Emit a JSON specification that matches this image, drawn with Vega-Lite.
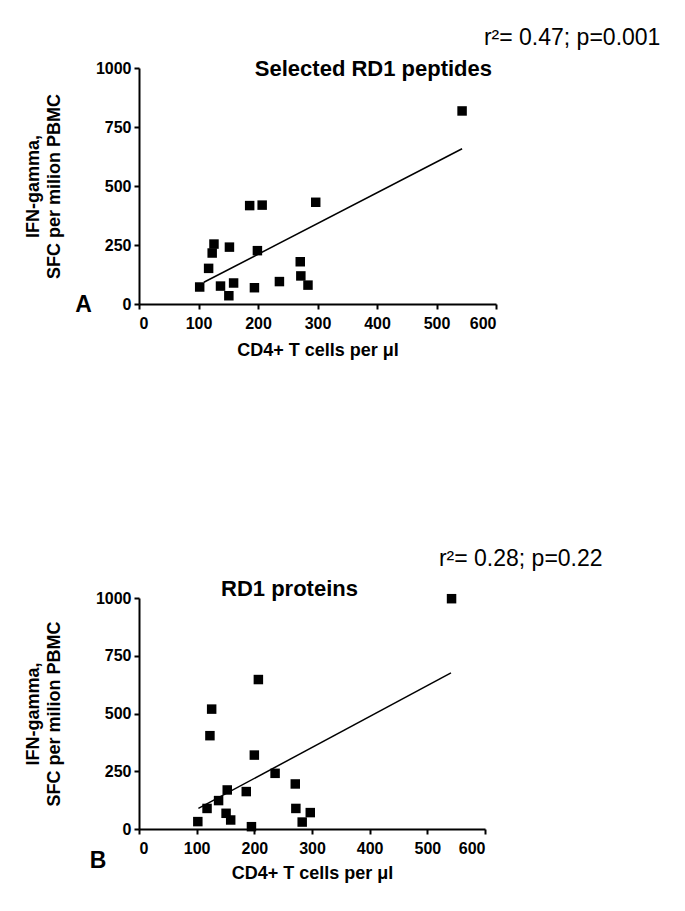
{
  "$schema": "https://vega.github.io/schema/vega-lite/v6.json",
  "background": "white",
  "padding": {"left": 24, "top": 27, "right": 5, "bottom": 5},
  "bounds": "flush",
  "spacing": 294,
  "config": {
    "view": {"stroke": null},
    "font": "Liberation Sans",
    "axis": {
      "grid": false,
      "domainColor": "black",
      "domainWidth": 2,
      "tickColor": "black",
      "tickWidth": 2,
      "tickSize": 5,
      "labelColor": "black",
      "labelFont": "Liberation Sans",
      "labelFontWeight": "bold",
      "labelFontSize": 16,
      "titleColor": "black",
      "titleFont": "Liberation Sans",
      "titleFontWeight": "bold",
      "titleFontSize": 18,
      "titleLineHeight": 21,
      "format": "d"
    }
  },
  "datasets": {
    "pep": [
      {"x": 543, "y": 818}, {"x": 102, "y": 72}, {"x": 117, "y": 151}, {"x": 123, "y": 216},
      {"x": 126, "y": 254}, {"x": 137, "y": 76}, {"x": 151, "y": 35}, {"x": 152, "y": 241},
      {"x": 159, "y": 89}, {"x": 186, "y": 417}, {"x": 194, "y": 69}, {"x": 199, "y": 226},
      {"x": 207, "y": 419}, {"x": 236, "y": 95}, {"x": 271, "y": 179}, {"x": 272, "y": 119},
      {"x": 284, "y": 80}, {"x": 297, "y": 431}
    ],
    "pepfit": [{"x": 109, "y": 92}, {"x": 543, "y": 658}],
    "pro": [
      {"x": 542, "y": 997}, {"x": 102, "y": 32}, {"x": 118, "y": 89}, {"x": 123, "y": 404},
      {"x": 126, "y": 519}, {"x": 138, "y": 123}, {"x": 151, "y": 68}, {"x": 153, "y": 169},
      {"x": 159, "y": 39}, {"x": 186, "y": 162}, {"x": 195, "y": 10}, {"x": 200, "y": 320},
      {"x": 207, "y": 647}, {"x": 236, "y": 241}, {"x": 271, "y": 195}, {"x": 272, "y": 89},
      {"x": 283, "y": 30}, {"x": 297, "y": 71}
    ],
    "profit": [{"x": 103, "y": 89}, {"x": 541, "y": 676}],
    "notesA": [
      {"kind": "title", "x": 394, "y": 996, "label": "Selected RD1 peptides"},
      {"kind": "stat", "x": 728, "y": 1127, "label": "r²= 0.47; p=0.001"},
      {"kind": "letter", "x": -93, "y": -4, "label": "A"}
    ],
    "notesB": [
      {"kind": "title", "x": 261, "y": 1041, "label": "RD1 proteins"},
      {"kind": "stat", "x": 662, "y": 1170, "label": "r²= 0.28; p=0.22"},
      {"kind": "letter", "x": -71, "y": -140, "label": "B"}
    ]
  },
  "vconcat": [
    {
      "width": 357,
      "height": 236,
      "encoding": {
        "x": {"field": "x", "type": "quantitative", "scale": {"domain": [0, 600]},
              "axis": {"values": [0, 100, 200, 300, 400, 500, 600], "title": "CD4+ T cells per  μl", "labelPadding": 6, "titlePadding": 10}},
        "y": {"field": "y", "type": "quantitative", "scale": {"domain": [0, 1000]},
              "axis": {"values": [0, 250, 500, 750, 1000], "title": ["IFN-gamma,", "SFC per milion PBMC"], "labelPadding": 3, "titlePadding": 32}}
      },
      "layer": [
        {"data": {"name": "pep"}, "mark": {"type": "square", "size": 90, "color": "black", "opacity": 1}},
        {"data": {"name": "pepfit"}, "mark": {"type": "line", "color": "black", "strokeWidth": 1.5}},
        {"data": {"name": "notesA"}, "transform": [{"filter": "datum.kind == 'title'"}],
         "mark": {"type": "text", "fontSize": 22, "fontWeight": "bold", "color": "black", "align": "center", "baseline": "middle"},
         "encoding": {"text": {"field": "label"}}},
        {"data": {"name": "notesA"}, "transform": [{"filter": "datum.kind == 'stat'"}],
         "mark": {"type": "text", "fontSize": 23, "fontWeight": "normal", "color": "black", "align": "center", "baseline": "middle"},
         "encoding": {"text": {"field": "label"}}},
        {"data": {"name": "notesA"}, "transform": [{"filter": "datum.kind == 'letter'"}],
         "mark": {"type": "text", "fontSize": 23, "fontWeight": "bold", "color": "black", "align": "center", "baseline": "middle"},
         "encoding": {"text": {"field": "label"}}}
      ]
    },
    {
      "width": 346,
      "height": 231,
      "encoding": {
        "x": {"field": "x", "type": "quantitative", "scale": {"domain": [0, 600]},
              "axis": {"values": [0, 100, 200, 300, 400, 500, 600], "title": "CD4+ T cells per  μl", "labelPadding": 6, "titlePadding": 8}},
        "y": {"field": "y", "type": "quantitative", "scale": {"domain": [0, 1000]},
              "axis": {"values": [0, 250, 500, 750, 1000], "title": ["IFN-gamma,", "SFC per milion PBMC"], "labelPadding": 3, "titlePadding": 32}}
      },
      "layer": [
        {"data": {"name": "pro"}, "mark": {"type": "square", "size": 90, "color": "black", "opacity": 1}},
        {"data": {"name": "profit"}, "mark": {"type": "line", "color": "black", "strokeWidth": 1.5}},
        {"data": {"name": "notesB"}, "transform": [{"filter": "datum.kind == 'title'"}],
         "mark": {"type": "text", "fontSize": 22, "fontWeight": "bold", "color": "black", "align": "center", "baseline": "middle"},
         "encoding": {"text": {"field": "label"}}},
        {"data": {"name": "notesB"}, "transform": [{"filter": "datum.kind == 'stat'"}],
         "mark": {"type": "text", "fontSize": 23, "fontWeight": "normal", "color": "black", "align": "center", "baseline": "middle"},
         "encoding": {"text": {"field": "label"}}},
        {"data": {"name": "notesB"}, "transform": [{"filter": "datum.kind == 'letter'"}],
         "mark": {"type": "text", "fontSize": 23, "fontWeight": "bold", "color": "black", "align": "center", "baseline": "middle"},
         "encoding": {"text": {"field": "label"}}}
      ]
    }
  ]
}
